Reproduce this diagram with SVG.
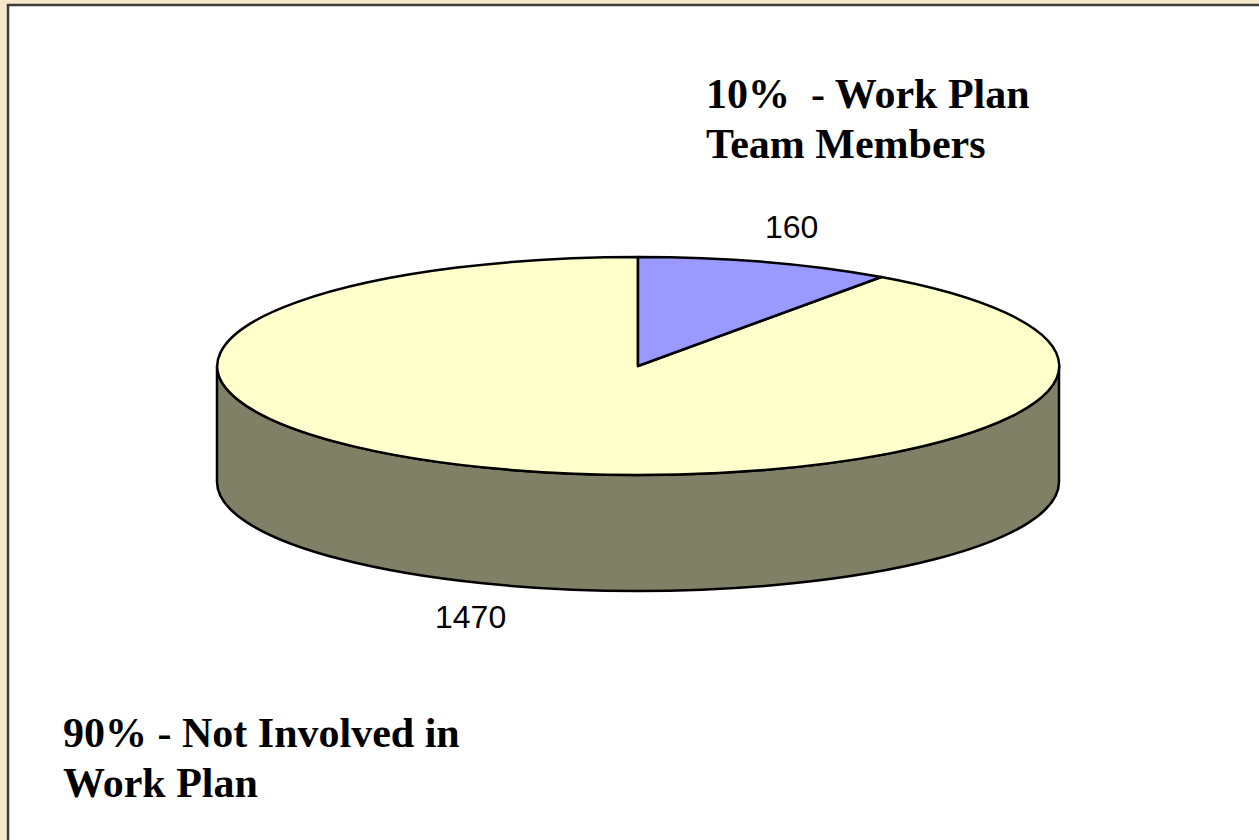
<svg xmlns="http://www.w3.org/2000/svg" width="1259" height="840" viewBox="0 0 1259 840">
<style>
.lbl{font-family:"Liberation Serif","Times New Roman",serif;font-weight:bold;font-size:42px;fill:#000}
.val{font-family:"Liberation Sans",Arial,sans-serif;font-size:32px;fill:#000}
.edge{stroke:#000;stroke-width:2.5;stroke-linejoin:round}
</style>
<rect x="0" y="0" width="1259" height="840" fill="#F7E8CB"/>
<rect x="8" y="5" width="1260" height="850" fill="#FFFFFF" stroke="#3C3C3C" stroke-width="2.5"/>
<g id="pie">
<g id="side">
<path class="edge" d="M217 366 L217 482 A421 109 0 0 0 1059 482 L1059 366 A421 109 0 0 1 217 366 Z" fill="#808066"/>
</g>
<g id="slice-not-involved">
<path class="edge" d="M638 366 L638 257 A421 109 0 1 0 881.3 277 Z" fill="#FFFFCC"/>
</g>
<g id="slice-team">
<path class="edge" d="M638 366 L638 257 A421 109 0 0 1 881.3 277 Z" fill="#9999FF"/>
</g>
</g>
<g id="connectors"></g>
<g id="label-160"><text class="val" x="765" y="238">160</text></g>
<g id="label-1470"><text class="val" x="435" y="628">1470</text></g>
<g id="legend-team">
<text class="lbl" x="706" y="108" xml:space="preserve">10%  - Work Plan</text>
<text class="lbl" x="706" y="158">Team Members</text>
</g>
<g id="legend-not">
<text class="lbl" x="63" y="747">90% - Not Involved in</text>
<text class="lbl" x="63" y="797">Work Plan</text>
</g>
</svg>
